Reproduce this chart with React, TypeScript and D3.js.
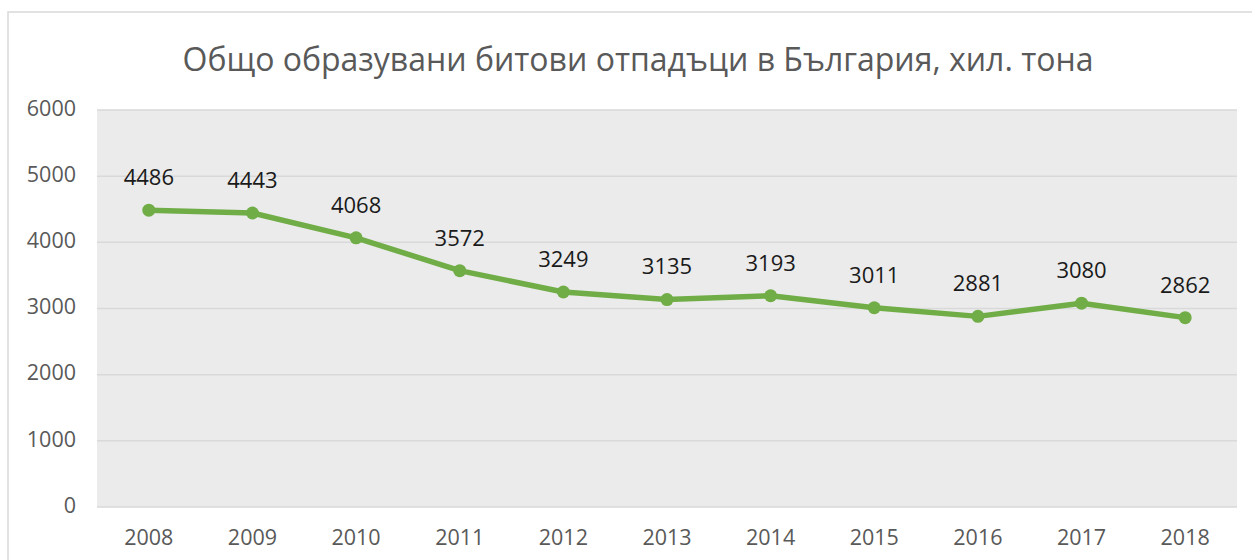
import React from "react";
import * as d3 from "d3";

const years = ["2008", "2009", "2010", "2011", "2012", "2013", "2014", "2015", "2016", "2017", "2018"];
const values = [4486, 4443, 4068, 3572, 3249, 3135, 3193, 3011, 2881, 3080, 2862];
const yTicks = [0, 1000, 2000, 3000, 4000, 5000, 6000];
const title = "Общо образувани битови отпадъци в България, хил. тона";

const W = 1252;
const H = 560;
const left = 97, right = 1237, top = 110, bottom = 507;
const font = "'Open Sans', 'Noto Sans', sans-serif";

export default function App() {
  const x = d3.scaleBand().domain(years).range([left, right]);
  const y = d3.scaleLinear().domain([0, 6000]).range([bottom, top]);
  const cx = (d: string) => (x(d) as number) + x.bandwidth() / 2;
  const line = d3.line<number>().x((_, i) => cx(years[i])).y((v) => y(v));

  return (
    <svg width={W} height={H} style={{ position: "absolute", left: 0, top: 0 }}>
      <rect x={0} y={0} width={W} height={H} fill="#ffffff" />
      <rect x={8} y={12} width={1260} height={600} fill="#ffffff" stroke="#d9d9d9" strokeWidth={1.5} />
      <text x={638} y={62} textAnchor="middle" dominantBaseline="middle" fontFamily={font} fontSize={32} fill="#595959">
        {title}
      </text>
      <rect x={left} y={top} width={right - left} height={bottom - top} fill="#ebebeb" />
      {yTicks.map((t) => (
        <g key={t}>
          <line x1={left} x2={right} y1={y(t)} y2={y(t)} stroke="#d9d9d9" strokeWidth={1.5} />
          <text x={76} y={y(t)} textAnchor="end" dominantBaseline="middle" fontFamily={font} fontSize={21.5} fill="#595959">
            {t}
          </text>
        </g>
      ))}
      {years.map((yr) => (
        <text key={yr} x={cx(yr)} y={539} textAnchor="middle" dominantBaseline="middle" fontFamily={font} fontSize={21.5} fill="#595959">
          {yr}
        </text>
      ))}
      <path d={line(values) || ""} fill="none" stroke="#70ad47" strokeWidth={5.5} strokeLinejoin="round" strokeLinecap="round" />
      {values.map((v, i) => (
        <circle key={i} cx={cx(years[i])} cy={y(v)} r={6.5} fill="#70ad47" />
      ))}
      {values.map((v, i) => (
        <text key={"l" + i} x={cx(years[i])} y={y(v) - 31} textAnchor="middle" dominantBaseline="middle" fontFamily={font} fontSize={22} fill="#1a1a1a">
          {v}
        </text>
      ))}
    </svg>
  );
}
